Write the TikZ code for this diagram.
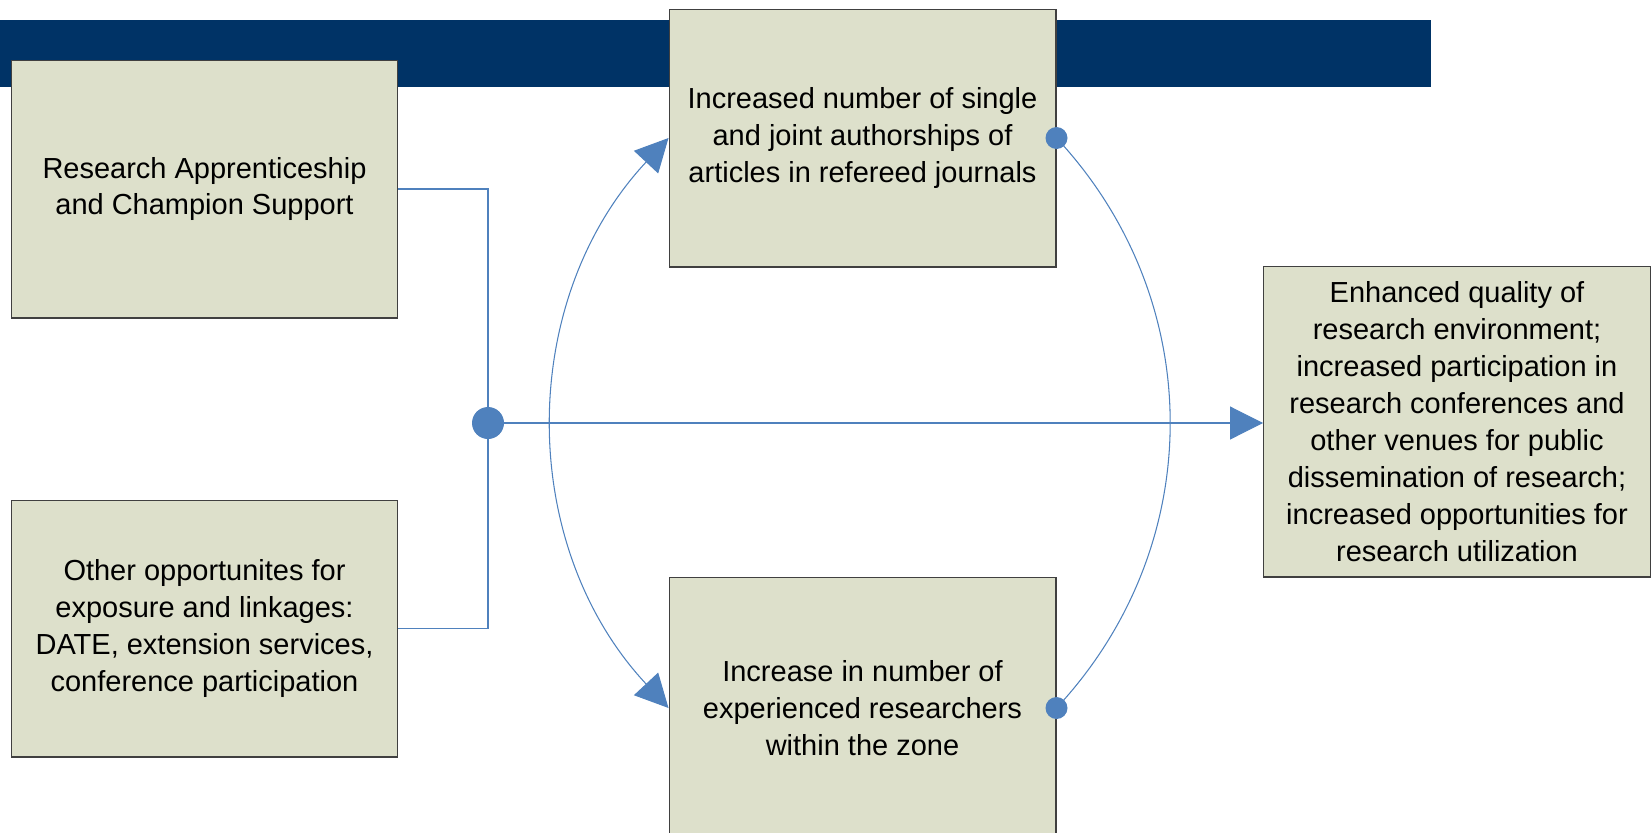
\documentclass[tikz,border=0pt]{standalone}
\usepackage{fontspec}
\setmainfont{Liberation Sans}
\usetikzlibrary{arrows.meta}
\definecolor{barblue}{RGB}{0,51,102}
\definecolor{linkblue}{RGB}{79,129,189}
\definecolor{boxfill}{RGB}{221,224,203}

\begin{document}
\begin{tikzpicture}[x=0.02cm, y=-0.02cm, >={Triangle[length=0.66cm, width=0.66cm]},
    box/.style={draw=black!75, line width=0.6pt, fill=boxfill, align=center, inner sep=0pt,
        minimum width=7.74cm, font=\fontsize{16.5}{21}\selectfont},
    link/.style={draw=linkblue, line width=0.6pt},
    dot/.style={circle, fill=linkblue, inner sep=0pt}]
    \useasboundingbox (0,0) rectangle (1652,832);
    \fill[barblue] (0,20) rectangle (1431,87);

    \node[box, minimum height=5.16cm] (appr) at (204.5,189) {Research Apprenticeship\\and Champion Support};
    \node[box, minimum height=5.14cm] (other) at (204.5,628.5) {Other opportunites for\\exposure and linkages:\\DATE, extension services,\\conference participation};
    \node[box, minimum height=5.16cm] (authr) at (862.5,138) {Increased number of single\\and joint authorships of\\articles in refereed journals};
    \node[box, minimum height=5.24cm] (resr) at (862.5,708) {Increase in number of\\experienced researchers\\within the zone};
    \node[box, minimum height=6.22cm] (envt) at (1457,421.5) {Enhanced quality of\\research environment;\\increased participation in\\research conferences and\\other venues for public\\dissemination of research;\\increased opportunities for\\research utilization};

    \node[dot, minimum size=0.64cm] (hub) at (488,423) {};
    \draw[link] (appr.east) -| (hub);
    \draw[link] (other.east) -| (hub);
    \draw[link, ->] (hub) -- (hub -| envt.west);
    \draw[link, <->] (authr.west) to[bend right=43] (resr.west);
    \draw[link] (authr.east) to[bend left=43] (resr.east);
    \node[dot, minimum size=0.44cm] (tdot) at (authr.east) {};
    \node[dot, minimum size=0.44cm] (bdot) at (resr.east) {};
\end{tikzpicture}
\end{document}
